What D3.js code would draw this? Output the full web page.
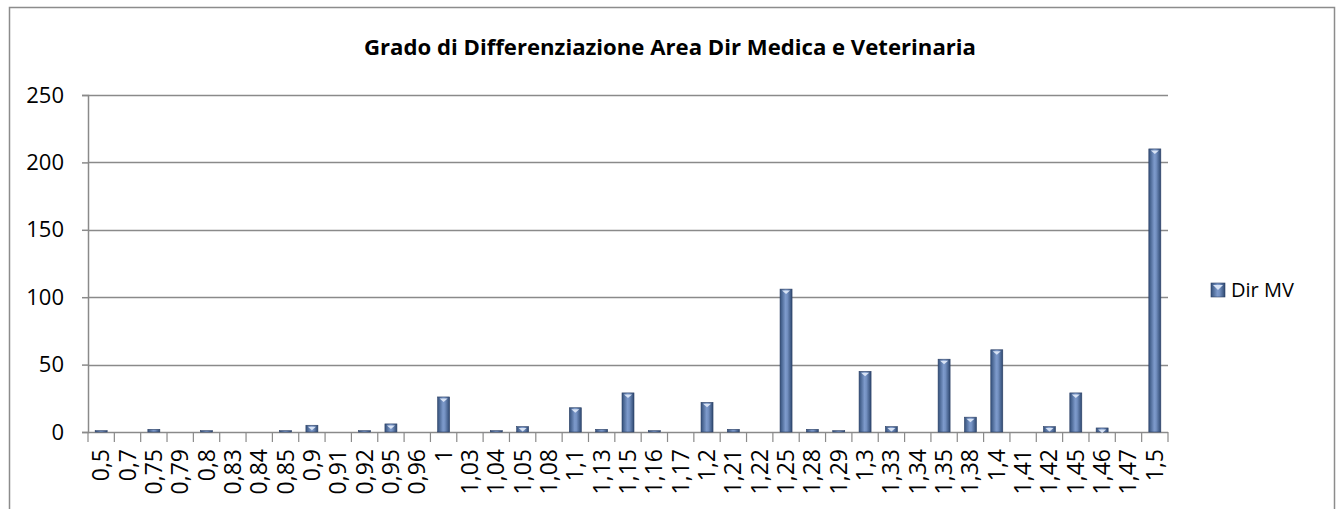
<html>
<head>
<meta charset="UTF-8">
<title>Grado di Differenziazione</title>
<style>
  body { margin: 0; background: #fff; }
  text { font-family: "Open Sans", "Noto Sans", sans-serif; fill: #000; }
</style>
</head>
<body>
<script src="https://cdnjs.cloudflare.com/ajax/libs/d3/7.8.5/d3.min.js"></script>
<script>
var categories = ["0,5","0,7","0,75","0,79","0,8","0,83","0,84","0,85","0,9","0,91","0,92","0,95","0,96","1",
  "1,03","1,04","1,05","1,08","1,1","1,13","1,15","1,16","1,17","1,2","1,21","1,22","1,25","1,28","1,29",
  "1,3","1,33","1,34","1,35","1,38","1,4","1,41","1,42","1,45","1,46","1,47","1,5"];
var dirMV = [1,0,2,0,1,0,0,1,5,0,1,6,0,26,
  0,1,4,0,18,2,29,1,0,22,2,0,106,2,1,
  45,4,0,54,11,61,0,4,29,3,0,210];
var yTicks = [0,50,100,150,200,250];
var seriesName = "Dir MV";
var title = "Grado di Differenziazione Area Dir Medica e Veterinaria";

var W = 1343, H = 509;
var plotL = 88, plotR = 1168, plotT = 95, plotB = 432;

var svg = d3.select("body").append("svg")
  .attr("width", W).attr("height", H);

var defs = svg.append("defs");
var grad = defs.append("linearGradient").attr("id", "barGrad")
  .attr("x1", "0%").attr("x2", "100%").attr("y1", "0%").attr("y2", "0%");
grad.append("stop").attr("offset", "0%").attr("stop-color", "#34507a");
grad.append("stop").attr("offset", "45%").attr("stop-color", "#7d9acb");
grad.append("stop").attr("offset", "60%").attr("stop-color", "#7592c3");
grad.append("stop").attr("offset", "100%").attr("stop-color", "#2e4870");

// chart frame
svg.append("rect").attr("x", 9.5).attr("y", 7.5).attr("width", 1325).attr("height", 520)
  .attr("fill", "none").attr("stroke", "#8c8c8c").attr("stroke-width", 1.5);

svg.append("text").attr("x", 670).attr("y", 55).attr("text-anchor", "middle")
  .attr("textLength", 612).attr("lengthAdjust", "spacingAndGlyphs")
  .style("font-size", "21px").style("font-weight", "bold").text(title);

var x = d3.scaleBand().domain(categories).range([plotL, plotR]);
var y = d3.scaleLinear().domain([0, 250]).range([plotB, plotT]);

// gridlines
svg.append("g").selectAll("line").data(yTicks.slice(1)).enter().append("line")
  .attr("x1", plotL).attr("x2", plotR)
  .attr("y1", function(d) { return Math.round(y(d)) + 0.5; })
  .attr("y2", function(d) { return Math.round(y(d)) + 0.5; })
  .attr("stroke", "#8a8a8a").attr("stroke-width", 1.5);

// y axis
var yAxis = svg.append("g").attr("transform", "translate(" + plotL + ",0)")
  .call(d3.axisLeft(y).tickValues(yTicks).tickSize(6).tickPadding(18));
yAxis.select(".domain").attr("stroke", "#8a8a8a").attr("stroke-width", 1.5);
yAxis.selectAll(".tick line").attr("stroke", "#8a8a8a").attr("stroke-width", 1.5);
yAxis.selectAll("text").style("font-size", "22px").attr("font-family", null);

// x axis with ticks at category boundaries
var xg = svg.append("g");
xg.append("line").attr("x1", plotL).attr("x2", plotR)
  .attr("y1", plotB + 0.5).attr("y2", plotB + 0.5)
  .attr("stroke", "#8a8a8a").attr("stroke-width", 1.5);
xg.selectAll("line.tk").data(categories.concat(["end"])).enter().append("line")
  .attr("class", "tk")
  .attr("x1", function(d, i) { return plotL + i * x.step(); })
  .attr("x2", function(d, i) { return plotL + i * x.step(); })
  .attr("y1", plotB).attr("y2", plotB + 10)
  .attr("stroke", "#8a8a8a").attr("stroke-width", 1.2);
xg.selectAll("text").data(categories).enter().append("text")
  .attr("transform", function(d) {
    return "translate(" + (x(d) + x.bandwidth() / 2 + 8) + "," + (plotB + 17) + ") rotate(-90)";
  })
  .attr("text-anchor", "end")
  .style("font-size", "23px")
  .text(function(d) { return d; });

// bars
var bw = 12;
var bars = svg.append("g").selectAll("g").data(categories).enter().append("g");
bars.append("rect")
  .attr("x", function(d) { return x(d) + x.bandwidth() / 2 - bw / 2; })
  .attr("y", function(d, i) { return y(dirMV[i]); })
  .attr("width", bw)
  .attr("height", function(d, i) { return plotB - y(dirMV[i]); })
  .attr("fill", "url(#barGrad)")
  .attr("stroke", "#2d4166").attr("stroke-width", 0.6);
bars.filter(function(d, i) { return dirMV[i] > 2; }).append("path")
  .attr("d", function(d) {
    var i = categories.indexOf(d);
    var cx = x(d) + x.bandwidth() / 2, ty = y(dirMV[i]);
    return "M" + (cx - 4) + "," + (ty + 1.5) + "L" + (cx + 4) + "," + (ty + 1.5) + "L" + cx + "," + (ty + 5) + "Z";
  })
  .attr("fill", "#d8e3f5");

// legend
var lg = svg.append("g").attr("transform", "translate(1211,283)");
lg.append("rect").attr("width", 14).attr("height", 14)
  .attr("fill", "url(#barGrad)").attr("stroke", "#2d4166").attr("stroke-width", 0.6);
lg.append("path").attr("d", "M2,2L12,2L7,7Z").attr("fill", "#d8e3f5");
lg.append("text").attr("x", 20).attr("y", 14).style("font-size", "20px").text(seriesName);
</script>
</body>
</html>
